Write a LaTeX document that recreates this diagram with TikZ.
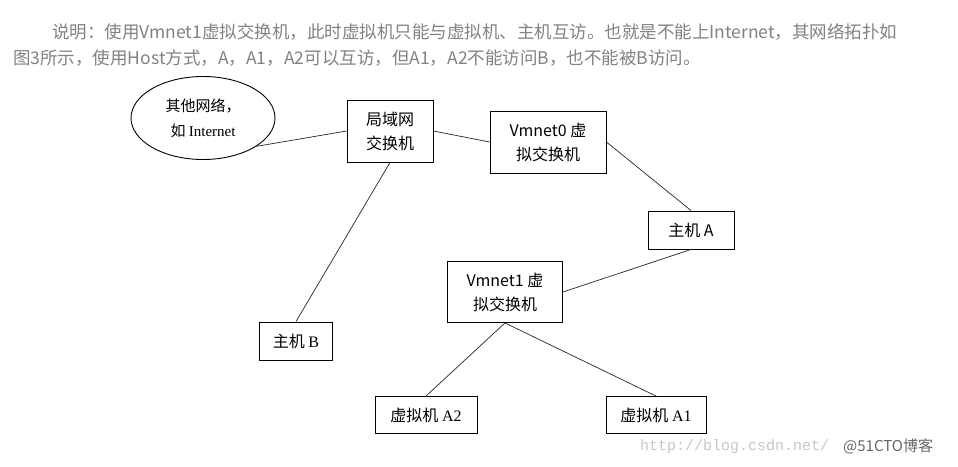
\documentclass[tikz,border=0pt]{standalone}
\usepackage{fontspec}
\setmainfont{Liberation Serif}
\newfontfamily\cjk{Noto Sans CJK SC}
\newfontfamily\wmfont{Liberation Mono}
\usetikzlibrary{%
  shapes.geometric,
  positioning}
\definecolor{notegray}{RGB}{130,130,130}
\tikzset{
  %% Switch boxes (two lines)
  swbox/.style={
    rectangle, draw=black, line width=0.9pt, fill=white,
    align=center, inner sep=0pt,
    minimum height=62pt, font=\fontsize{16}{24}\selectfont\cjk},
  %% Host / VM boxes
  hostbox/.style={
    rectangle, draw=black, line width=0.9pt, fill=white,
    align=center, inner sep=0pt,
    minimum height=37pt, font=\fontsize{16}{18}\selectfont\cjk},
  %% Outside network
  cloudnode/.style={
    ellipse, draw=black, line width=0.9pt, fill=white,
    align=center, inner sep=0pt,
    minimum width=144pt, minimum height=83pt,
    font=\fontsize{15}{25}\selectfont\cjk},
  %% Caption text
  note/.style={
    anchor=west, inner sep=0pt, text=notegray,
    font=\fontsize{17.5}{20}\selectfont\cjk},
  %% Links
  link/.style={line width=0.7pt, black!85},
}

\begin{document}
\begin{tikzpicture}[x=1pt, y=-1pt]

  \useasboundingbox[fill=white] (0,0) rectangle (958,466);

  %% Caption
  \node[note] (capone) at (52,32)
        {说明：使用Vmnet1虚拟交换机，此时虚拟机只能与虚拟机、主机互访。也就是不能上Internet，其网络拓扑如};
  \node[note] (captwo) at (13,58)
        {图3所示，使用Host方式，A，A1，A2可以互访，但A1，A2不能访问B，也不能被B访问。};

  %% Network
  \node[cloudnode] (other) at (203,118)
        {其他网络，\\ 如 {\rmfamily Internet}};

  \node[swbox, minimum width=86pt] (lan) at (390,131)
        {局域网\\ 交换机};

  \node[swbox, minimum width=116pt] (vmzero) at (548,142)
        {Vmnet0 虚\\ 拟交换机};

  \node[hostbox, minimum width=86pt, minimum height=38pt] (hosta) at (691,230)
        {主机 A};

  \node[swbox, minimum width=115pt, minimum height=61pt] (vmone) at (505,292)
        {Vmnet1 虚\\ 拟交换机};

  \node[hostbox, minimum width=73pt, minimum height=38pt] (hostb) at (296,341)
        {主机 {\rmfamily B}};

  \node[hostbox, minimum width=102pt] (vma2) at (426,415)
        {虚拟机 {\rmfamily A2}};

  \node[hostbox, minimum width=100pt] (vma1) at (656,415)
        {虚拟机 {\rmfamily A1}};

  %% Watermark
  \node[anchor=west, inner sep=0pt, text=black!22,
        font=\fontsize{15}{16}\selectfont\wmfont] (wmurl) at (640,447)
        {http://blog.csdn.net/};
  \node[anchor=west, inner sep=0pt, text=black!60,
        font=\fontsize{15}{16}\selectfont\cjk] (wmsite) at (843,446)
        {@51CTO博客};

  %% Links
  \draw[link] (other.-28) -- (lan.west);
  \draw[link] (lan.east)  -- (vmzero.west);
  \draw[link] (lan.south) -- (hostb.north);
  \draw[link] (vmzero.east) -- (hosta.north);
  \draw[link] (hosta.south) -- (vmone.east);
  \draw[link] (vmone.south) -- (vma2.north);
  \draw[link] (vmone.south) -- (vma1.north);

\end{tikzpicture}
\end{document}
